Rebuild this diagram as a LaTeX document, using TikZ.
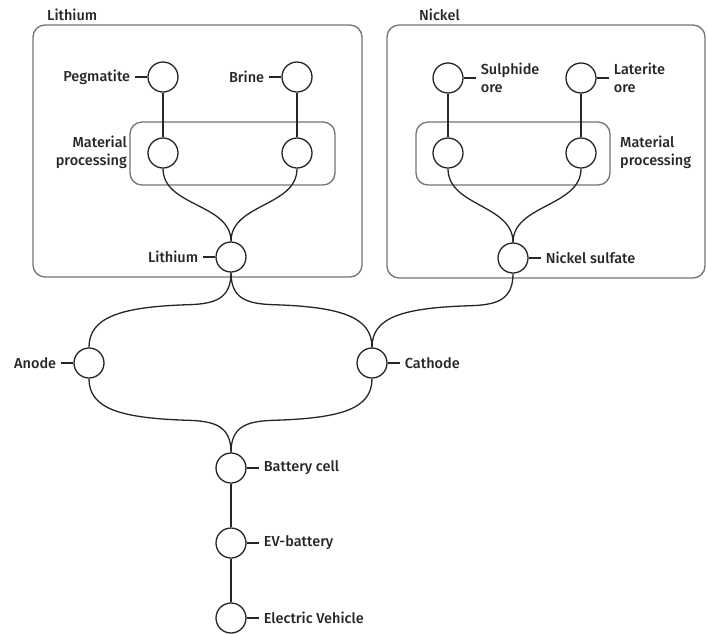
\documentclass[tikz,border=0pt]{standalone}
\usepackage{fontspec}
\setmainfont{Fira Sans}[UprightFont={* Medium}]
\begin{document}
\begin{tikzpicture}[x=1pt,y=-1pt,
  every node/.style={font=\fontsize{14.5}{18}\selectfont, text=black!85},
  stage/.style={draw=black!85, line width=1.3pt, circle, minimum size=30pt, inner sep=0pt, fill=white},
  flow/.style={draw=black!85, line width=1.3pt},
  groupbox/.style={draw=black!55, line width=1.3pt, rounded corners=12pt},
  lbl/.style={inner sep=0pt, inner xsep=5pt, align=left},
  lblr/.style={inner sep=0pt, inner xsep=5pt, align=right}]
\useasboundingbox (0,0) rectangle (707,633);

% group frames
\draw[groupbox] (33,25) rectangle (362,277);
\draw[groupbox] (387,25) rectangle (705,278);
\draw[groupbox] (130,122) rectangle (335,185);
\draw[groupbox] (416,122) rectangle (610,185);
\node[anchor=west, inner sep=0pt] (tli) at (47,15) {Lithium};
\node[anchor=west, inner sep=0pt] (tni) at (419,15) {Nickel};

% stages
\node[stage] (peg) at (163,77) {};
\node[stage] (brine) at (297,77) {};
\node[stage] (lmpa) at (163,153) {};
\node[stage] (lmpb) at (297,153) {};
\node[stage] (li) at (231,257) {};
\node[stage] (sul) at (448,78) {};
\node[stage] (lat) at (581,78) {};
\node[stage] (nmpa) at (448,153) {};
\node[stage] (nmpb) at (581,153) {};
\node[stage] (nis) at (513,258) {};
\node[stage] (anode) at (89,363) {};
\node[stage] (cathode) at (372,363) {};
\node[stage] (cell) at (231,468) {};
\node[stage] (evb) at (231,543) {};
\node[stage] (ev) at (231,618) {};

% labels
\node[lblr, anchor=east] (pegl) at ([xshift=-12pt]peg.west) {Pegmatite};
\node[lblr, anchor=east] (brinel) at ([xshift=-12pt]brine.west) {Brine};
\node[lblr, anchor=east] (lil) at ([xshift=-12pt]li.west) {Lithium};
\node[lbl, anchor=west] (sull) at ([xshift=12pt]sul.east) {Sulphide\\ore};
\node[lbl, anchor=west] (latl) at ([xshift=12pt]lat.east) {Laterite\\ore};
\node[lbl, anchor=west] (nisl) at ([xshift=12pt]nis.east) {Nickel sulfate};
\node[lblr, anchor=east] (anodel) at ([xshift=-12pt]anode.west) {Anode};
\node[lbl, anchor=west] (cathodel) at ([xshift=12pt]cathode.east) {Cathode};
\node[lbl, anchor=west] (celll) at ([xshift=12pt]cell.east) {Battery cell};
\node[lbl, anchor=west] (evbl) at ([xshift=12pt]evb.east) {EV-battery};
\node[lbl, anchor=west] (evl) at ([xshift=12pt]ev.east) {Electric Vehicle};
\node[lblr, anchor=east, inner xsep=0pt] (lmpl) at (127,152) {Material\\processing};
\node[lbl, anchor=west, inner xsep=0pt] (nmpl) at (620,152) {Material\\processing};

% label ticks
\foreach \s/\l in {peg/pegl, brine/brinel, li/lil, anode/anodel}
  \draw[flow] (\s.west) -- (\l.east);
\foreach \s/\l in {sul/sull, lat/latl, nis/nisl, cathode/cathodel, cell/celll, evb/evbl, ev/evl}
  \draw[flow] (\s.east) -- (\l.west);

% straight links
\draw[flow] (peg) -- (lmpa);
\draw[flow] (brine) -- (lmpb);
\draw[flow] (sul) -- (nmpa);
\draw[flow] (lat) -- (nmpb);
\draw[flow] (cell) -- (evb);
\draw[flow] (evb) -- (ev);

% merging curves inside the groups
\draw[flow] (lmpa.south) .. controls +(0,38) and +(0,-38) .. (li.north);
\draw[flow] (lmpb.south) .. controls +(0,38) and +(0,-38) .. (li.north);
\draw[flow] (nmpa.south) .. controls +(0,38) and +(0,-38) .. (nis.north);
\draw[flow] (nmpb.south) .. controls +(0,38) and +(0,-38) .. (nis.north);

% materials to electrodes
\draw[flow] (li.south) .. controls +(0,26) and +(25,-1) .. ++(-41,32)
  .. controls +(-70,2) and +(0,-30) .. (anode.north);
\draw[flow] (li.south) .. controls +(0,26) and +(-25,-1) .. ++(41,32)
  .. controls +(70,2) and +(0,-30) .. (cathode.north);
\draw[flow] (nis.south) .. controls +(0,26) and +(25,-1) .. ++(-41,32)
  .. controls +(-70,2) and +(0,-30) .. (cathode.north);

% electrodes to battery cell
\draw[flow] (cell.north) .. controls +(0,-26) and +(25,1) .. ++(-41,-32)
  .. controls +(-70,-2) and +(0,30) .. (anode.south);
\draw[flow] (cell.north) .. controls +(0,-26) and +(-25,1) .. ++(41,-32)
  .. controls +(70,-2) and +(0,30) .. (cathode.south);
\end{tikzpicture}
\end{document}
